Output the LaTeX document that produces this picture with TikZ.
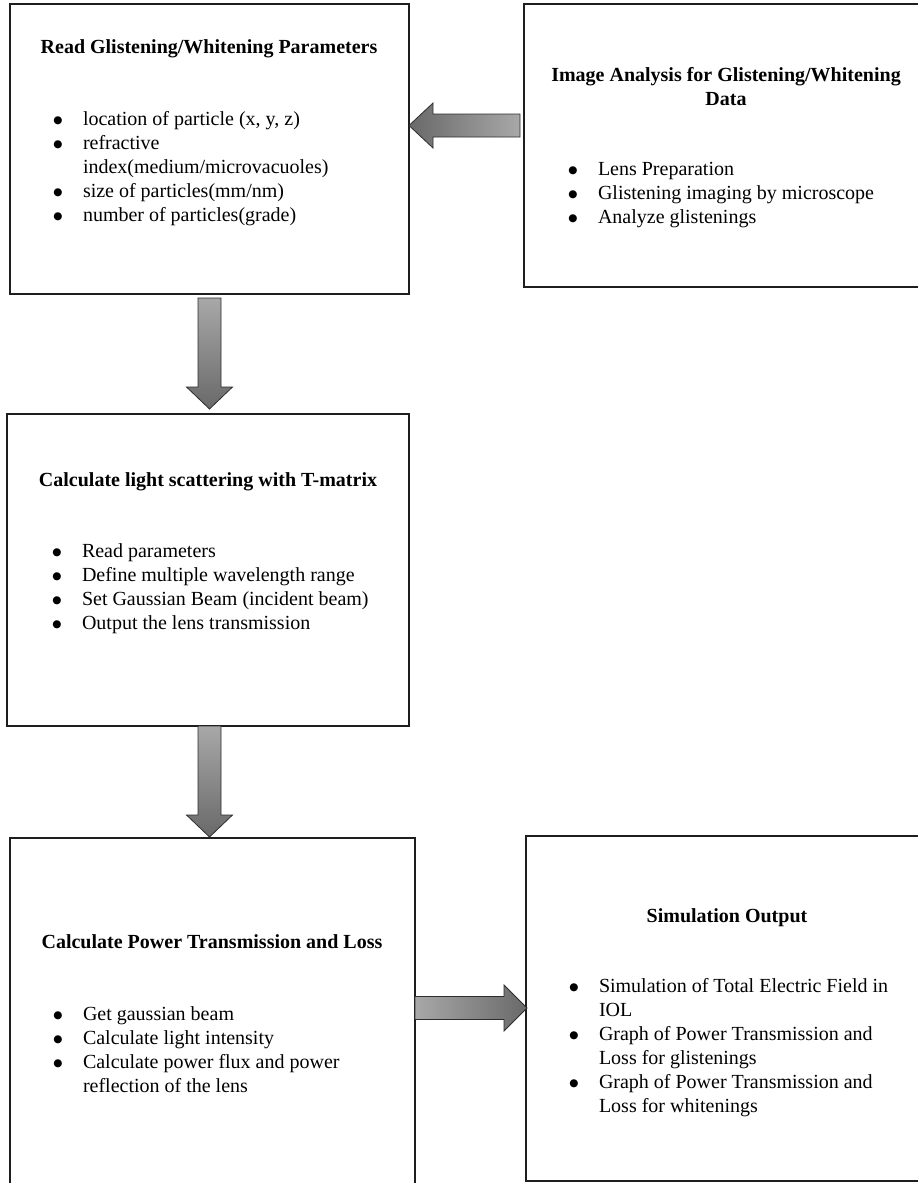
\documentclass[tikz,border=0pt]{standalone}
\usepackage{fontspec}
\setmainfont{Liberation Serif}
\newfontfamily\dotfont{DejaVu Sans}
\usetikzlibrary{calc}

\definecolor{boxedge}{RGB}{30,30,30}
\definecolor{arrowdark}{RGB}{105,105,105}
\definecolor{arrowlight}{RGB}{168,168,168}
\definecolor{arrowedge}{RGB}{45,45,45}

% one bulleted line, and a wrapped continuation line
\newcommand{\bigbullet}{\makebox[8pt][c]{\raisebox{1.6pt}{\fontsize{10.5}{12}\dotfont ●}}}
\newcommand{\bline}[1]{\makebox[29pt][l]{\bigbullet}#1}
\newcommand{\contline}[1]{\hspace*{29pt}#1}

\begin{document}
\begin{tikzpicture}[x=1pt,y=-1pt,
    every node/.style={inner sep=0pt,outer sep=0pt,font=\fontsize{20}{24}\selectfont},
    stagebox/.style={draw=boxedge,line width=1.4pt,fill=white,anchor=north west},
    heading/.style={anchor=base,font=\fontsize{20}{24}\selectfont\bfseries},
    itemlist/.style={anchor=base west},
    blockarrow/.style={draw=arrowedge,line width=0.8pt,line join=miter}]

\useasboundingbox (0,0) rectangle (918,1183);
\clip (0,0) rectangle (918,1183);

% stage boxes
\node[stagebox,minimum width=399pt,minimum height=290pt] (box1) at (10,4) {};
\node[stagebox,minimum width=404pt,minimum height=283pt] (box2) at (524,4) {};
\node[stagebox,minimum width=402pt,minimum height=312pt] (box3) at (7,414) {};
\node[stagebox,minimum width=405pt,minimum height=357pt] (box4) at (10,838) {};
\node[stagebox,minimum width=402pt,minimum height=345pt] (box5) at (526,836) {};

% box texts
\node[heading] (t1) at (209,53) {Read Glistening/Whitening Parameters};
\node[itemlist] (l1) at (54,125) {\parbox[t]{340pt}{\raggedright
  \bline{location of particle (x, y, z)}\\
  \bline{refractive}\\
  \contline{index(medium/microvacuoles)}\\
  \bline{size of particles(mm/nm)}\\
  \bline{number of particles(grade)}}};

\node[heading] (t2) at (726,81) {\parbox[t]{400pt}{\centering\bfseries
  Image Analysis for Glistening/Whitening\\Data}};
\node[itemlist] (l2) at (569,175) {\parbox[t]{340pt}{\raggedright
  \bline{Lens Preparation}\\
  \bline{Glistening imaging by microscope}\\
  \bline{Analyze glistenings}}};

\node[heading] (t3) at (208,486) {Calculate light scattering with T-matrix};
\node[itemlist] (l3) at (53,557) {\parbox[t]{345pt}{\raggedright
  \bline{Read parameters}\\
  \bline{Define multiple wavelength range}\\
  \bline{Set Gaussian Beam (incident beam)}\\
  \bline{Output the lens transmission}}};

\node[heading] (t4) at (212,948) {Calculate Power Transmission and Loss};
\node[itemlist] (l4) at (54,1020) {\parbox[t]{345pt}{\raggedright
  \bline{Get gaussian beam}\\
  \bline{Calculate light intensity}\\
  \bline{Calculate power flux and power}\\
  \contline{reflection of the lens}}};

\node[heading] (t5) at (727,922) {Simulation Output};
\node[itemlist] (l5) at (570,992) {\parbox[t]{345pt}{\raggedright
  \bline{Simulation of Total Electric Field in}\\
  \contline{IOL}\\
  \bline{Graph of Power Transmission and}\\
  \contline{Loss for glistenings}\\
  \bline{Graph of Power Transmission and}\\
  \contline{Loss for whitenings}}};

% connector end points
\coordinate (la-t) at ($(box2.north west)+(-4,121.5)$);
\coordinate (la-h) at (box1.east |- la-t);
\coordinate (da1-t) at ($(box1.south)+(0,4)$);
\coordinate (da1-h) at ($(da1-t |- box3.north)+(0,-5)$);
\coordinate (da2-t) at (da1-t |- box3.south);
\coordinate (da2-h) at ($(da2-t |- box4.north)+(0,-1)$);
\coordinate (ra-t) at ($(box4.north east)+(0,170)$);
\coordinate (ra-h) at ($(box5.west |- ra-t)+(1,0)$);

% image analysis -> parameters
\path[blockarrow,left color=arrowdark,right color=arrowlight]
  ($(la-t)+(0,-11.5)$) -- ($(la-h)+(24,-11.5)$) -- ($(la-h)+(24,-22.5)$)
  -- (la-h) -- ($(la-h)+(24,22.5)$) -- ($(la-h)+(24,11.5)$)
  -- ($(la-t)+(0,11.5)$) -- cycle;

% parameters -> light scattering
\path[blockarrow,top color=arrowlight,bottom color=arrowdark]
  ($(da1-t)+(-11.5,0)$) -- ($(da1-h)+(-11.5,-22)$) -- ($(da1-h)+(-23,-22)$)
  -- (da1-h) -- ($(da1-h)+(23,-22)$) -- ($(da1-h)+(11.5,-22)$)
  -- ($(da1-t)+(11.5,0)$) -- cycle;

% light scattering -> power transmission
\path[blockarrow,top color=arrowlight,bottom color=arrowdark]
  ($(da2-t)+(-11.5,0)$) -- ($(da2-h)+(-11.5,-22)$) -- ($(da2-h)+(-23,-22)$)
  -- (da2-h) -- ($(da2-h)+(23,-22)$) -- ($(da2-h)+(11.5,-22)$)
  -- ($(da2-t)+(11.5,0)$) -- cycle;

% power transmission -> simulation output
\path[blockarrow,left color=arrowlight,right color=arrowdark]
  ($(ra-t)+(0,-11.5)$) -- ($(ra-h)+(-23,-11.5)$) -- ($(ra-h)+(-23,-23)$)
  -- (ra-h) -- ($(ra-h)+(-23,23)$) -- ($(ra-h)+(-23,11.5)$)
  -- ($(ra-t)+(0,11.5)$) -- cycle;

\end{tikzpicture}
\end{document}
